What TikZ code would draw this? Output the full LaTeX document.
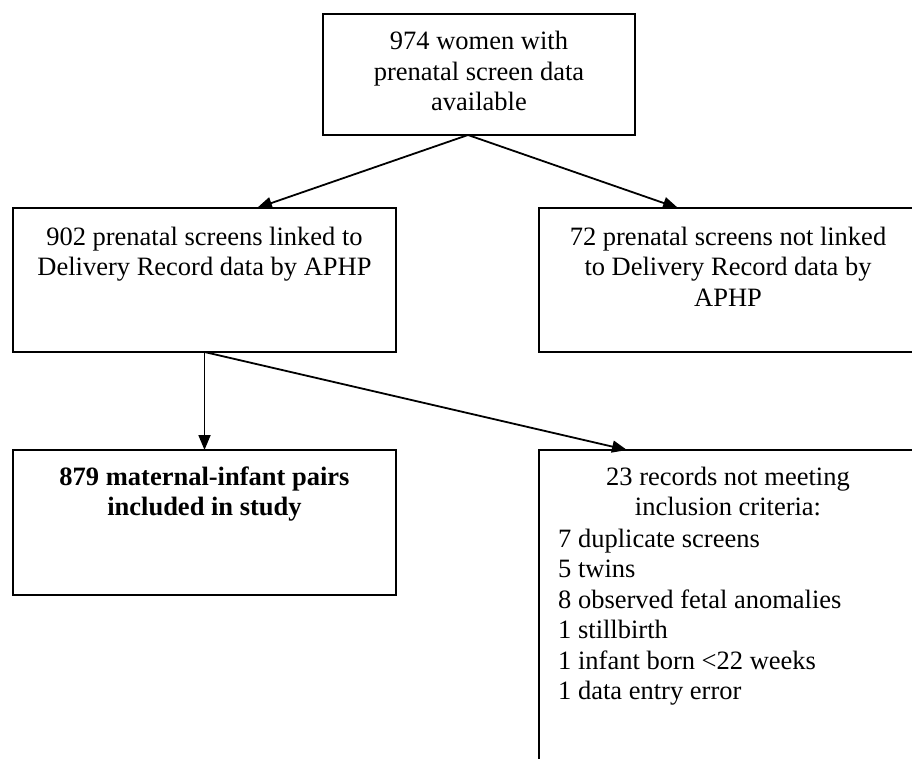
\documentclass[tikz,border=0pt]{standalone}
\usepackage{fontspec}
\setmainfont{Liberation Serif}
\usetikzlibrary{arrows.meta}
\begin{document}
\begin{tikzpicture}[x=1pt,y=-1pt,
  box/.style={draw, line width=2.2pt, rectangle, inner sep=0pt, outer sep=0pt},
  txt/.style={font=\fontsize{26.5}{30.5}\selectfont, align=center, inner sep=0pt, anchor=base},
  lst/.style={font=\fontsize{26.5}{30.5}\selectfont, align=left, inner sep=0pt, anchor=base west},
  arr/.style={line width=1.8pt, -{Triangle[length=15pt,width=12pt]}}
]
\clip (0,0) rectangle (912,759);
\fill[white] (0,0) rectangle (912,759);
% boxes
\node[box, minimum width=312pt, minimum height=121pt] (top) at (479,74.5) {};
\node[box, minimum width=383pt, minimum height=144pt] (left) at (204.5,280) {};
\node[box, minimum width=378pt, minimum height=144pt] (right) at (728,280) {};
\node[box, minimum width=383pt, minimum height=145pt] (bl) at (204.5,522.5) {};
\node[box, minimum width=378pt, minimum height=370pt] (br) at (728,635) {};
% texts (anchor base = baseline of the last line)
\node[txt] (toptxt) at (479,111) {974 women with\\prenatal screen data\\available};
\node[txt] (lefttxt) at (204.5,275.5) {902 prenatal screens linked to\\Delivery Record data by APHP};
\node[txt] (righttxt) at (728,306) {72 prenatal screens not linked\\to Delivery Record data by\\APHP};
\node[txt, font=\fontsize{26.5}{30.5}\selectfont\bfseries] (bltxt) at (204.5,515.5) {879 maternal-infant pairs\\included in study};
\node[txt] (brtxt) at (728,515.5) {23 records not meeting\\inclusion criteria:};
\node[lst] (brlist) at (558,699.5) {7 duplicate screens\\5 twins\\8 observed fetal anomalies\\1 stillbirth\\1 infant born <22 weeks\\1 data entry error};
% connectors
\draw[arr] ([xshift=-11pt]top.south) -- ([xshift=52.5pt]left.north);
\draw[arr] ([xshift=-11pt]top.south) -- ([xshift=-50pt]right.north);
\draw[arr] (left.south) -- (bl.north);
\draw[arr] (left.south) -- ([xshift=-101pt]br.north);
\end{tikzpicture}
\end{document}
